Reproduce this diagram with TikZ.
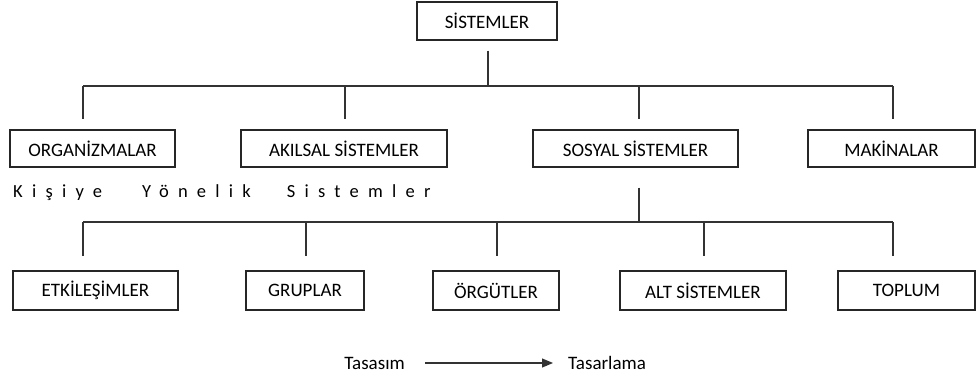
\documentclass[tikz,border=0pt]{standalone}
\usepackage{fontspec}
\setmainfont{Carlito}
\usetikzlibrary{arrows.meta}
\begin{document}
\begin{tikzpicture}[x=1pt,y=-1pt,
  every node/.style={font=\fontsize{19}{21}\selectfont},
  box/.style={draw=black!85,line width=1.2pt,rectangle,inner sep=0pt},
  link/.style={draw=black!80,line width=1.1pt},
  txt/.style={inner sep=0pt}]
\useasboundingbox (0,0) rectangle (976,380);

% root
\node[box,minimum width=140pt,minimum height=38pt] (sys) at (487,21) {SİSTEMLER};

% first level
\node[box,minimum width=165pt,minimum height=37pt] (org) at (92.5,148.5) {ORGANİZMALAR};
\node[box,minimum width=206pt,minimum height=37pt] (akl) at (344,148.5) {AKILSAL SİSTEMLER};
\node[box,minimum width=205pt,minimum height=37pt] (sos) at (635.5,148.5) {SOSYAL SİSTEMLER};
\node[box,minimum width=167pt,minimum height=37pt] (mak) at (891.5,148.5) {MAKİNALAR};

\node[txt,anchor=west,font=\fontsize{18.5}{20}\selectfont] (kys) at (13,193)
  {\addfontfeature{LetterSpace=50}Kişiye\hspace{40pt}Yönelik\hspace{36pt}Sistemler};

% second level
\node[box,minimum width=165pt,minimum height=39pt] (etk) at (95.5,290.5) {ETKİLEŞİMLER};
\node[box,minimum width=118pt,minimum height=39pt] (grp) at (305,290.5) {GRUPLAR};
\node[box,minimum width=126pt,minimum height=39pt] (org2) at (496,290.5) {ÖRGÜTLER};
\node[box,minimum width=166pt,minimum height=39pt] (alt) at (703,290.5) {ALT SİSTEMLER};
\node[box,minimum width=137pt,minimum height=39pt] (top) at (906.5,290.5) {TOPLUM};

% upper tree
\coordinate (ua) at (488,86);
\coordinate (u1) at (83,86);
\coordinate (u2) at (345,86);
\coordinate (u3) at (639,86);
\coordinate (u4) at (893,86);
\draw[link,shorten <=10pt] (sys.south -| ua) -- (ua);
\draw[link] (u1) -- (u4);
\draw[link,shorten >=10pt] (u1) -- (u1 |- org.north);
\draw[link,shorten >=10pt] (u2) -- (u2 |- akl.north);
\draw[link,shorten >=10pt] (u3) -- (u3 |- sos.north);
\draw[link,shorten >=10pt] (u4) -- (u4 |- mak.north);

% lower tree
\coordinate (la) at (639,222);
\coordinate (l1) at (83,222);
\coordinate (l2) at (306,222);
\coordinate (l3) at (497,222);
\coordinate (l4) at (704,222);
\coordinate (l5) at (893,222);
\draw[link,shorten <=20pt] (sos.south -| la) -- (la);
\draw[link] (l1) -- (l5);
\draw[link,shorten >=14pt] (l1) -- (l1 |- etk.north);
\draw[link,shorten >=14pt] (l2) -- (l2 |- grp.north);
\draw[link,shorten >=14pt] (l3) -- (l3 |- org2.north);
\draw[link,shorten >=14pt] (l4) -- (l4 |- alt.north);
\draw[link,shorten >=14pt] (l5) -- (l5 |- top.north);

% legend arrow
\node[txt,anchor=east] (tas) at (405,363) {Tasasım};
\node[txt,anchor=west] (tar) at (568,363) {Tasarlama};
\draw[link,-{Triangle[length=11pt,width=9pt]},shorten <=20pt,shorten >=15pt] (tas.east) -- (tar.west);
\end{tikzpicture}
\end{document}
